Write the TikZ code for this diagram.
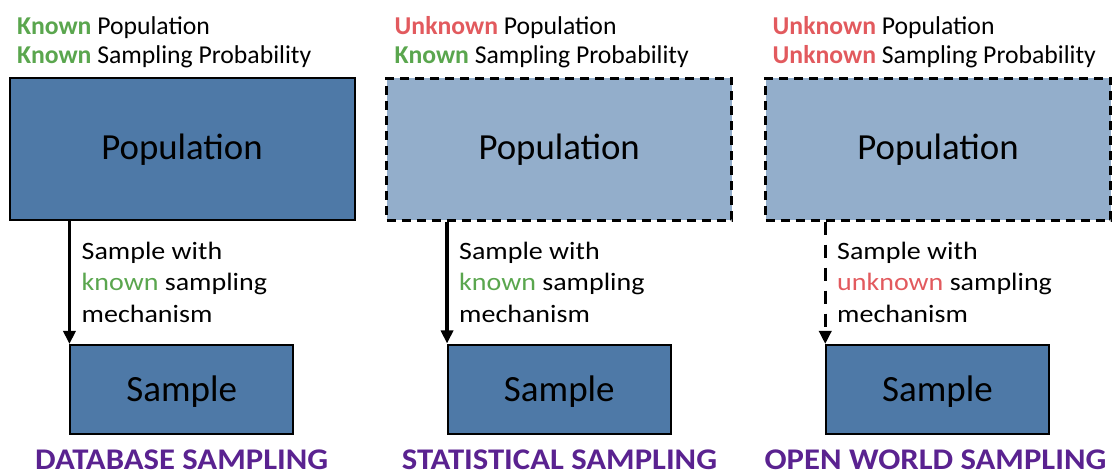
\documentclass[tikz,border=0pt]{standalone}
\usepackage{fontspec}
\setmainfont{Carlito}
\newfontfamily\widefont[FakeStretch=1.12]{Carlito}
\newfontfamily\titlefont[FakeStretch=1.09]{Carlito}
\usetikzlibrary{arrows.meta}
\definecolor{boxdark}{HTML}{4E79A7}
\definecolor{boxlight}{HTML}{93AECB}
\definecolor{goodgreen}{HTML}{5AA64E}
\definecolor{badred}{HTML}{E25A5E}
\definecolor{titlepurple}{HTML}{5A2290}
\tikzset{
  popbox/.style={draw=black, line width=2pt, minimum width=345pt, minimum height=142pt,
    inner sep=0pt, text height=24pt, text depth=4pt, font=\fontsize{36.8}{40}\selectfont},
  sampbox/.style={draw=black, line width=2pt, fill=boxdark, minimum width=222.5pt, minimum height=89pt,
    inner sep=0pt, text height=27pt, text depth=3pt, font=\fontsize{37}{40}\selectfont},
  dashborder/.style={line width=2.5pt, dash pattern=on 9pt off 6pt},
  header/.style={anchor=base west, inner sep=0pt, font=\fontsize{25.7}{30}\selectfont},
  mech/.style={anchor=base west, inner sep=0pt, font=\widefont\fontsize{25}{30}\selectfont},
  kind/.style={anchor=base, inner sep=0pt, font=\titlefont\fontsize{30}{32}\selectfont\bfseries, text=titlepurple},
  flow/.style={line width=3.5pt, -{Triangle[length=13pt,width=12pt]}},
}
\newcommand{\good}[1]{\textcolor{goodgreen}{#1}}
\newcommand{\bad}[1]{\textcolor{badred}{#1}}
\begin{document}
\begin{tikzpicture}[x=1pt,y=-1pt]
\useasboundingbox (0,0) rectangle (1112,473);

% ---- database sampling
\node[header] (h1a) at (17,34.3) {\textbf{\good{Known}} Population};
\node[header] (h1b) at (17,64) {\textbf{\good{Known}} Sampling Probability};
\node[popbox, fill=boxdark] (pop1) at (182,149.5) {Population};
\node[sampbox] (samp1) at (181.7,389.5) {Sample};
\draw[flow] (samp1.north west |- pop1.south) -- (samp1.north west);
\node[mech] (m1a) at (81.5,259.3) {Sample with};
\node[mech] (m1b) at (81.5,290.5) {\good{known} sampling};
\node[mech] (m1c) at (81.5,322.7) {mechanism};
\node[kind] (k1) at (181.7,469.3) {DATABASE SAMPLING};

% ---- statistical sampling
\node[header] (h2a) at (394.5,34.3) {\textbf{\bad{Unknown}} Population};
\node[header] (h2b) at (394.5,64) {\textbf{\good{Known}} Sampling Probability};
\node[popbox, fill=boxlight, dashborder] (pop2) at (559.2,149.5) {Population};
\node[sampbox] (samp2) at (559.3,389) {Sample};
\draw[flow] (samp2.north west |- pop2.south) -- (samp2.north west);
\node[mech] (m2a) at (459,259.3) {Sample with};
\node[mech] (m2b) at (459,290.5) {\good{known} sampling};
\node[mech] (m2c) at (459,322.7) {mechanism};
\node[kind] (k2) at (559.5,469.3) {STATISTICAL SAMPLING};

% ---- open world sampling
\node[header] (h3a) at (772.5,34.3) {\textbf{\bad{Unknown}} Population};
\node[header] (h3b) at (772.5,64) {\textbf{\bad{Unknown}} Sampling Probability};
\node[popbox, fill=boxlight, dashborder] (pop3) at (938,149.5) {Population};
\node[sampbox] (samp3) at (937.5,389.5) {Sample};
\draw[flow, dash pattern=on 13pt off 10pt] (samp3.north west |- pop3.south) -- (samp3.north west);
\node[mech] (m3a) at (837,259.3) {Sample with};
\node[mech] (m3b) at (837,290.5) {\bad{unknown} sampling};
\node[mech] (m3c) at (837,322.7) {mechanism};
\node[kind] (k3) at (935.5,469.3) {OPEN WORLD SAMPLING};
\end{tikzpicture}
\end{document}
